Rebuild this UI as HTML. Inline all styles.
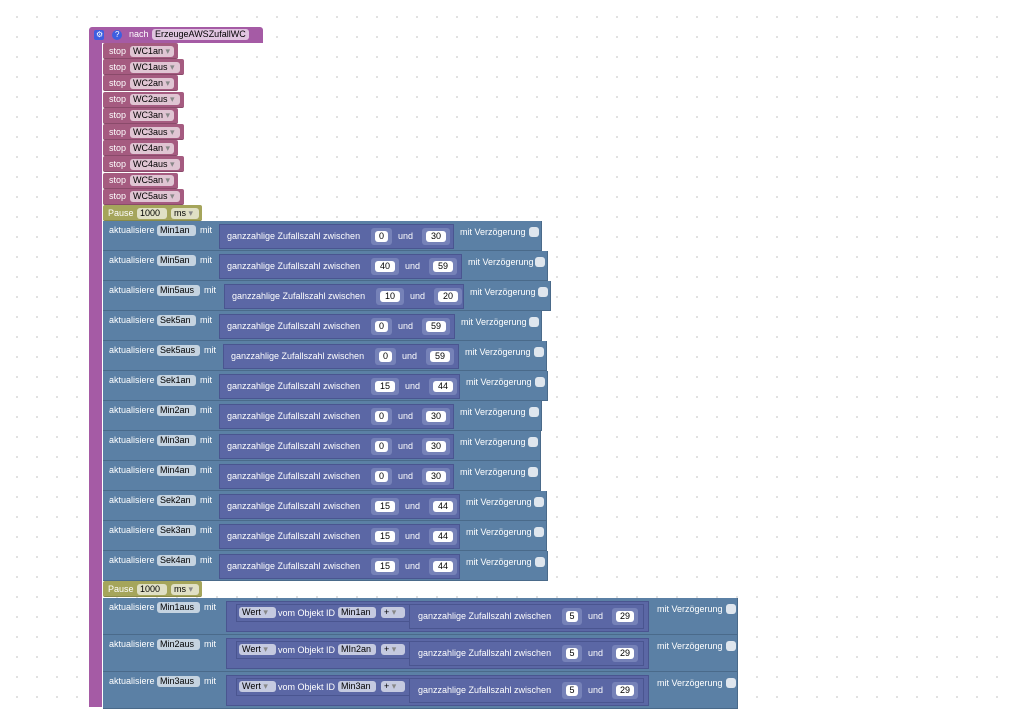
<!DOCTYPE html>
<html><head><meta charset="utf-8"><style>
body{margin:0;width:1012px;height:707px;overflow:hidden;background:#fff;
background-image:radial-gradient(circle,#dcdcdc 0.9px,transparent 1.2px);background-size:20px 20px;background-position:7px 7px;
font-family:"Liberation Sans",Arial,sans-serif;font-size:9px;color:#fff;position:relative}
.b{position:absolute;box-sizing:border-box}
.t{position:absolute;white-space:nowrap;line-height:11px}
.f{position:absolute;height:11px;line-height:11px;border-radius:3px;padding:0 3px;box-sizing:border-box;white-space:nowrap}
.fl{background:rgba(255,255,255,.65);color:#000}
.fw{background:#fff;color:#000;text-align:center}
.cb{position:absolute;width:10px;height:10px;border-radius:3px;background:#dfe6ee}
</style></head><body>
<div class="b" style="left:89px;top:27px;width:174px;height:16px;background:#a55ba5;border-radius:3px 3px 0 0"></div>
<div class="b" style="left:89px;top:42px;width:13px;height:665px;background:#a55ba5"></div>
<div class="b" style="left:94px;top:30px;width:10px;height:10px;background:#3d5ee0;border-radius:2px"></div>
<div class="b" style="left:112px;top:30px;width:10px;height:10px;background:#3d5ee0;border-radius:50%"></div>
<div class="t" style="left:96px;top:29px;font-size:8px">⚙</div>
<div class="t" style="left:115px;top:29px;font-size:8px">?</div>
<div class="t" style="left:129px;top:29px">nach</div>
<div class="f fl" style="left:152px;top:29px;width:97px">ErzeugeAWSZufallWC</div>
<div id="c"></div>
<script>
var c=document.getElementById('c'),h='';
function box(x,y,w,hh,col,ex){h+='<div class="b" style="left:'+x+'px;top:'+y+'px;width:'+w+'px;height:'+hh+'px;background:'+col+';'+(ex||'')+'"></div>';}
function txt(x,y,s,ex){h+='<div class="t" style="left:'+x+'px;top:'+y+'px;'+(ex||'')+'">'+s+'</div>';}
function fld(x,y,w,s,cl){h+='<div class="f '+cl+'" style="left:'+x+'px;top:'+y+'px;width:'+w+'px">'+s+'</div>';}
var st=['WC1an','WC1aus','WC2an','WC2aus','WC3an','WC3aus','WC4an','WC4aus','WC5an','WC5aus'];
st.forEach(function(n,i){var y=43+i*16.2,w=n.indexOf('aus')>0?81:75;
box(103,y,w,16,'#a55b80','border-bottom:1px solid #8a4a6a;border-radius:2px');
txt(109,y+2.5,'stop');fld(130,y+2.5,w-31,n+' <span style="color:#888">▾</span>','fl');});
function pause(y){box(103,y,99,16,'#a5a55b','border-radius:2px;border-bottom:1px solid #8a8a48');
txt(108,y+2.5,'Pause');fld(137,y+2.5,30,'1000','fl');fld(171,y+2.5,28,'ms <span style="color:#888">▾</span>','fl');}
pause(205);
var rows=[['Min1an',39,219,235,'0','30',542],['Min5an',39,219,243,'40','59',548],['Min5aus',43,224,240,'10','20',551],
['Sek5an',39,219,236,'0','59',542],['Sek5aus',43,223,236,'0','59',547],['Sek1an',39,219,241,'15','44',548],
['Min2an',39,219,235,'0','30',542],['Min3an',39,219,235,'0','30',541],['Min4an',39,219,235,'0','30',541],
['Sek2an',39,219,241,'15','44',547],['Sek3an',39,219,241,'15','44',547],['Sek4an',39,219,241,'15','44',548]];
rows.forEach(function(r,i){var y=221+i*30;
box(103,y,r[6]-103,30,'#5b80a5','border-bottom:1px solid #4a6a8a;border-right:1px solid #4a6a8a');
txt(109,y+4,'aktualisiere');fld(157,y+4,r[1],r[0],'fl');txt(157+r[1]+4,y+4,'mit');
var x=r[2];box(x,y+3,r[3],25,'#5b67a5','border:1px solid #4a5590');
txt(x+8,y+10,'ganzzahlige Zufallszahl zwischen');
var two=r[4].length>1;var f1=x+152,w1=two?26:19;
box(f1,y+7,w1+2,17,'#7682b8','border-radius:3px');fld(f1+4,y+10,w1-6,r[4],'fw');
var ux=f1+w1+8;txt(ux,y+10,'und');var f2=ux+24;
box(f2,y+7,28,17,'#7682b8','border-radius:3px');fld(f2+4,y+10,20,r[5],'fw');
txt(x+r[3]+6,y+6,'mit Verzögerung');h+='<div class="cb" style="left:'+(r[6]-13)+'px;top:'+(y+6)+'px"></div>';});
pause(581);
[['Min1aus','Min1an'],['Min2aus','MIn2an'],['Min3aus','Min3an']].forEach(function(r,i){var y=598+i*37;
box(103,y,635,37,'#5b80a5','border-bottom:1px solid #4a6a8a;border-right:1px solid #4a6a8a');
txt(109,y+4,'aktualisiere');fld(157,y+4,43,r[0],'fl');txt(204,y+4,'mit');
box(226,y+3,423,31,'#5b67a5','border:1px solid #4a5590');
box(236,y+6,175,18,'#5b67a5','border:1px solid #4a5590');
fld(239,y+9,37,'Wert <span style="color:#888">▾</span>','fl');txt(278,y+10,'vom Objekt ID');fld(338,y+9,38,r[1],'fl');
fld(381,y+9,24,'+ <span style="color:#888">▾</span>','fl');
box(409,y+6,235,25,'#5b67a5','border:1px solid #4a5590');
txt(418,y+13,'ganzzahlige Zufallszahl zwischen');
box(562,y+10,20,17,'#7682b8','border-radius:3px');fld(566,y+13,12,'5','fw');
txt(588,y+13,'und');box(612,y+10,26,17,'#7682b8','border-radius:3px');fld(616,y+13,18,'29','fw');
txt(657,y+6,'mit Verzögerung');h+='<div class="cb" style="left:726px;top:'+(y+6)+'px"></div>';});
c.innerHTML=h;
</script>
</body></html>
